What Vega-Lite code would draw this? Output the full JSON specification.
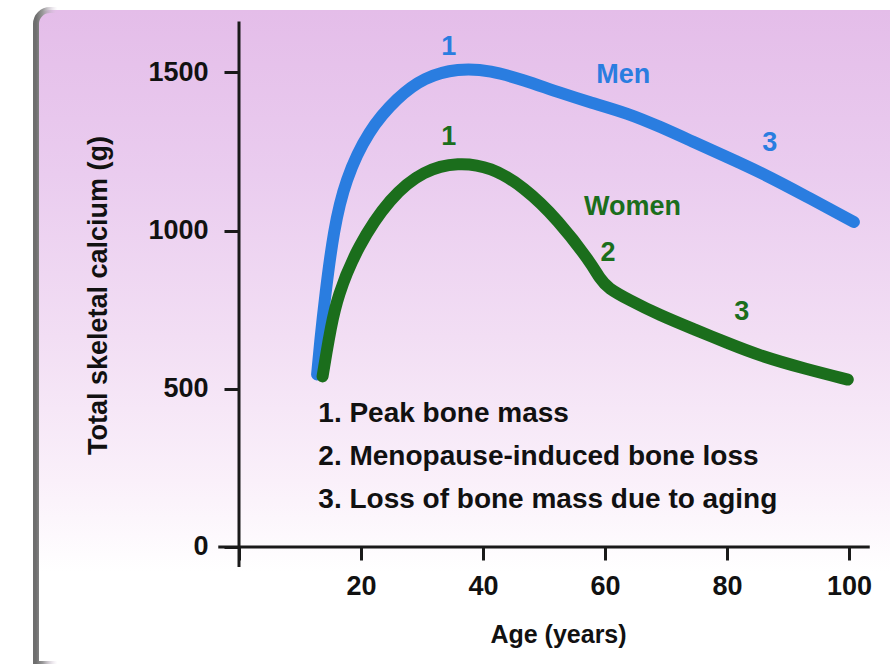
{
  "$schema": "https://vega.github.io/schema/vega-lite/v6.json",
  "width": 854,
  "height": 654,
  "autosize": {"type": "none"},
  "padding": {"left": 36, "top": 10, "right": 0, "bottom": 0},
  "background": "white",
  "config": {"view": {"stroke": null}, "font": "Liberation Sans"},
  "datasets": {
    "curves": [
      {"sex": "Men", "age": 12.8, "calcium": 545},
      {"sex": "Men", "age": 13.3, "calcium": 650},
      {"sex": "Men", "age": 14.1, "calcium": 791},
      {"sex": "Men", "age": 15.5, "calcium": 1002},
      {"sex": "Men", "age": 17.4, "calcium": 1160},
      {"sex": "Men", "age": 21.2, "calcium": 1317},
      {"sex": "Men", "age": 26.0, "calcium": 1421},
      {"sex": "Men", "age": 30.3, "calcium": 1484},
      {"sex": "Men", "age": 35.9, "calcium": 1513},
      {"sex": "Men", "age": 41.3, "calcium": 1506},
      {"sex": "Men", "age": 46.7, "calcium": 1475},
      {"sex": "Men", "age": 52.3, "calcium": 1437},
      {"sex": "Men", "age": 57.7, "calcium": 1404},
      {"sex": "Men", "age": 63.8, "calcium": 1370},
      {"sex": "Men", "age": 69.0, "calcium": 1328},
      {"sex": "Men", "age": 74.7, "calcium": 1278},
      {"sex": "Men", "age": 80.0, "calcium": 1232},
      {"sex": "Men", "age": 85.7, "calcium": 1182},
      {"sex": "Men", "age": 93.0, "calcium": 1108},
      {"sex": "Men", "age": 100.8, "calcium": 1027},
      {"sex": "Women", "age": 13.7, "calcium": 539},
      {"sex": "Women", "age": 14.3, "calcium": 610},
      {"sex": "Women", "age": 15.0, "calcium": 687},
      {"sex": "Women", "age": 16.1, "calcium": 791},
      {"sex": "Women", "age": 19.4, "calcium": 949},
      {"sex": "Women", "age": 24.8, "calcium": 1106},
      {"sex": "Women", "age": 30.3, "calcium": 1191},
      {"sex": "Women", "age": 35.9, "calcium": 1216},
      {"sex": "Women", "age": 41.3, "calcium": 1201},
      {"sex": "Women", "age": 46.7, "calcium": 1138},
      {"sex": "Women", "age": 52.3, "calcium": 1034},
      {"sex": "Women", "age": 57.7, "calcium": 898},
      {"sex": "Women", "age": 59.2, "calcium": 846},
      {"sex": "Women", "age": 60.5, "calcium": 818},
      {"sex": "Women", "age": 63.8, "calcium": 782},
      {"sex": "Women", "age": 69.0, "calcium": 732},
      {"sex": "Women", "age": 74.7, "calcium": 687},
      {"sex": "Women", "age": 80.0, "calcium": 645},
      {"sex": "Women", "age": 85.7, "calcium": 602},
      {"sex": "Women", "age": 93.0, "calcium": 562},
      {"sex": "Women", "age": 99.8, "calcium": 529}
    ],
    "labels": [
      {"sex": "Men", "text": "1", "age": 34.4, "calcium": 1579},
      {"sex": "Men", "text": "Men", "age": 63.0, "calcium": 1491},
      {"sex": "Men", "text": "3", "age": 87.0, "calcium": 1276},
      {"sex": "Women", "text": "1", "age": 34.4, "calcium": 1295},
      {"sex": "Women", "text": "Women", "age": 64.5, "calcium": 1075},
      {"sex": "Women", "text": "2", "age": 60.5, "calcium": 930},
      {"sex": "Women", "text": "3", "age": 82.4, "calcium": 741}
    ],
    "notes": [
      {"note": "1. Peak bone mass", "age": 13.0, "calcium": 420},
      {"note": "2. Menopause-induced bone loss", "age": 13.0, "calcium": 284},
      {"note": "3. Loss of bone mass due to aging", "age": 13.0, "calcium": 150}
    ],
    "axislines": [
      {"line": "x axis", "age": -3.4, "age2": 103.4, "calcium": 0, "calcium2": 0},
      {"line": "y axis", "age": 0, "age2": 0, "calcium": -63, "calcium2": 1660}
    ],
    "panel": [{"panel": "frame"}]
  },
  "layer": [
    {
      "data": {"name": "panel"},
      "mark": {
        "type": "rect",
        "cornerRadiusTopLeft": 14,
        "strokeWidth": 6,
        "color": {
          "gradient": "linear", "x1": 0, "y1": 0, "x2": 0, "y2": 1,
          "stops": [
            {"offset": 0, "color": "#e4bde9"},
            {"offset": 0.25, "color": "#eaccef"},
            {"offset": 0.5, "color": "#f2def4"},
            {"offset": 0.72, "color": "#faf0fa"},
            {"offset": 0.86, "color": "#ffffff"},
            {"offset": 1, "color": "#ffffff"}
          ]
        },
        "stroke": {
          "gradient": "linear", "x1": 0, "y1": 0, "x2": 1, "y2": 0,
          "stops": [
            {"offset": 0, "color": "#6e6e6e"},
            {"offset": 0.008, "color": "#9a9a9a"},
            {"offset": 0.025, "color": "rgba(220,200,225,0)"},
            {"offset": 1, "color": "rgba(220,200,225,0)"}
          ]
        }
      },
      "encoding": {}
    },
    {
      "data": {"name": "axislines"},
      "mark": {"type": "rule", "color": "#1a1a1a", "strokeWidth": 3},
      "encoding": {
        "x": {
          "field": "age", "type": "quantitative",
          "scale": {"domain": [-33.28, 106.72], "nice": false, "zero": false},
          "axis": {
            "values": [0, 20, 40, 60, 80, 100],
            "labelExpr": "datum.value == 0 ? '' : datum.label",
            "domain": false, "grid": false, "offset": -117, "zindex": 2,
            "tickSize": 13, "tickWidth": 3, "tickColor": "#1a1a1a",
            "labelFontSize": 27, "labelFontWeight": "bold", "labelColor": "#111111", "labelPadding": 13,
            "labelFlush": false, "labelOverlap": false,
            "title": "Age (years)", "titleFontSize": 25, "titleFontWeight": "bold",
            "titleColor": "#111111", "titleX": 522, "titleY": 87, "titleBaseline": "middle"
          }
        },
        "x2": {"field": "age2"},
        "y": {
          "field": "calcium", "type": "quantitative",
          "scale": {"domain": [-369.7, 1696.7], "nice": false, "zero": false},
          "axis": {
            "values": [0, 500, 1000, 1500],
            "format": "d",
            "domain": false, "grid": false, "offset": -203, "zindex": 2,
            "tickSize": 15, "tickWidth": 3, "tickColor": "#1a1a1a",
            "labelFontSize": 27, "labelFontWeight": "bold", "labelColor": "#111111", "labelPadding": 16,
            "labelFlush": false, "labelOverlap": false,
            "title": "Total skeletal calcium (g)", "titleFontSize": 27, "titleFontWeight": "bold",
            "titleColor": "#111111", "titleX": -141, "titleY": 285, "titleBaseline": "middle"
          }
        },
        "y2": {"field": "calcium2"}
      }
    },
    {
      "data": {"name": "curves"},
      "mark": {"type": "line", "strokeWidth": 12, "strokeCap": "round", "strokeJoin": "round", "interpolate": "basis"},
      "encoding": {
        "x": {"field": "age", "type": "quantitative"},
        "y": {"field": "calcium", "type": "quantitative"},
        "color": {
          "field": "sex", "type": "nominal",
          "scale": {"domain": ["Men", "Women"], "range": ["#2a7de0", "#1b6e1c"]},
          "legend": null
        }
      }
    },
    {
      "data": {"name": "labels"},
      "mark": {"type": "text", "fontSize": 27, "fontWeight": "bold", "align": "center", "baseline": "middle"},
      "encoding": {
        "x": {"field": "age", "type": "quantitative"},
        "y": {"field": "calcium", "type": "quantitative"},
        "text": {"field": "text"},
        "color": {"field": "sex", "type": "nominal"}
      }
    },
    {
      "data": {"name": "notes"},
      "mark": {"type": "text", "fontSize": 28, "fontWeight": "bold", "align": "left", "baseline": "middle", "color": "#111111"},
      "encoding": {
        "x": {"field": "age", "type": "quantitative"},
        "y": {"field": "calcium", "type": "quantitative"},
        "text": {"field": "note"}
      }
    }
  ]
}
